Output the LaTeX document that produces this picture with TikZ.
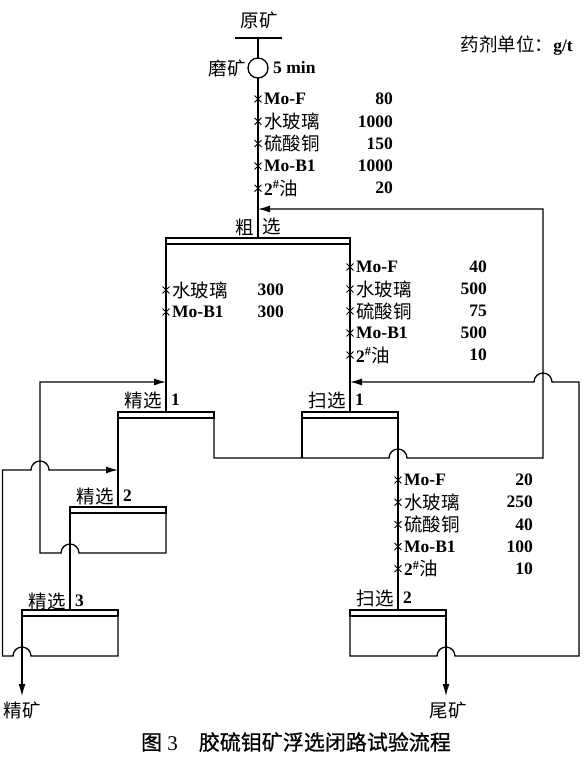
\documentclass[tikz,border=0pt]{standalone}
\usepackage{fontspec}
\setmainfont{Liberation Serif}
\newfontfamily\cjk{Noto Sans CJK SC}
\newfontfamily\cjkcap[FakeBold=0.8]{Noto Sans CJK SC}
\usetikzlibrary{arrows.meta, positioning, shapes.misc, calc}
\newcommand{\zh}[1]{{\cjk\mdseries\fontsize{18.5}{20}\selectfont #1}}
\newcommand{\lblfont}{\fontsize{18.5}{20}\selectfont\cjk}
\newcommand{\numfont}{\fontsize{17.5}{19}\selectfont\bfseries}
\newcommand{\capfont}{\fontsize{21}{23}\selectfont}
\tikzset{
  flow/.style ={line width=1.3pt},
  flowa/.style={line width=1.3pt, -{Latex[length=12pt,width=7pt]}},
  cellbar/.style={rectangle, draw, line width=1.3pt, minimum width=96pt, minimum height=6pt,
                  inner sep=0pt, outer sep=0pt, anchor=north},
  dose/.style ={cross out, draw, line width=0.9pt, minimum size=6pt, inner sep=0pt},
  rname/.style={anchor=west, inner sep=0pt, font=\numfont},
  ramt/.style ={anchor=east, inner sep=0pt, font=\numfont},
  stg/.style  ={anchor=east, inner sep=0pt, font=\lblfont},
  stgn/.style ={anchor=west, inner sep=0pt, font=\numfont},
  prod/.style ={inner sep=0pt, font=\lblfont},
}

\begin{document}
\begin{tikzpicture}[x=1pt, y=1pt]
  \useasboundingbox (0,0) rectangle (585,-766);
  % feed and grinding
  \coordinate (feedL) at (235,-38);
  \coordinate (feedR) at (282,-38);
  \coordinate (feed) at (258,-38);
  \node[prod] (ore) at (259,-20) {原矿};
  \node[circle, draw, flow, minimum size=20pt, inner sep=0pt, outer sep=0pt] (mill) at (258,-68) {};
  \node[stg] (mill-l) at (246,-68) {磨矿};
  \node[stgn] (mill-t) at (273,-68) {5 min};
  \node[anchor=east, inner sep=0pt, font=\numfont] (unit) at (573,-46) {\zh{药剂单位：}g/t};

  % cells
  \node[cellbar, minimum width=184pt] (ro) at (258,-238) {};
  \node[cellbar] (cl1) at (166,-412) {};
  \node[cellbar] (sc1) at (350,-412) {};
  \node[cellbar] (cl2) at (118,-507) {};
  \node[cellbar] (cl3) at (70,-610) {};
  \node[cellbar] (sc2) at (398,-610) {};
  \node[stg] (ro-l) at ($(ro.north)+(-4,11)$) {粗};
  \node[stg, anchor=west] (ro-r) at ($(ro.north)+(4,11)$) {选};
  \node[stg] (cl1-l) at ($(cl1.north)+(-4,12)$) {精选};
  \node[stgn] (cl1-n) at ($(cl1.north)+(5,12)$) {1};
  \node[stg] (sc1-l) at ($(sc1.north)+(-4,12)$) {扫选};
  \node[stgn] (sc1-n) at ($(sc1.north)+(5,12)$) {1};
  \node[stg] (cl2-l) at ($(cl2.north)+(-4,11)$) {精选};
  \node[stgn] (cl2-n) at ($(cl2.north)+(5,11)$) {2};
  \node[stg] (cl3-l) at ($(cl3.north)+(-4,9)$) {精选};
  \node[stgn] (cl3-n) at ($(cl3.north)+(5,9)$) {3};
  \node[stg] (sc2-l) at ($(sc2.north)+(-4,12)$) {扫选};
  \node[stgn] (sc2-n) at ($(sc2.north)+(5,12)$) {2};

  % levels of cell bottoms and return lines
  \coordinate (y1) at (0,-458);
  \coordinate (y2) at (0,-553);
  \coordinate (y3) at (0,-656);
  \coordinate (r1) at (543,-209);
  \coordinate (r2) at (579,-382);
  \coordinate (r3) at (40,-382);
  \coordinate (r4) at (2.5,-470);
  \coordinate (conc) at (22,-696);
  \coordinate (tail) at (446,-696);
  \node[prod] (conc-l) at (22,-710) {精矿};
  \node[prod] (tail-l) at (448,-710) {尾矿};

  % main line
  \draw[flow] (feedL) -- (feedR);
  \draw[flow] (feed) -- (mill);
  \draw[flow] (mill) -- (ro.north);
  \draw[flow] (ro.north west) -- (cl1.north);
  \draw[flow] (ro.north east) -- (sc1.north);
  \draw[flow] (cl1.north west) -- (cl2.north);
  \draw[flow] (sc1.north east) -- (sc2.north);
  \draw[flow] (cl2.north west) -- (cl3.north);
  \draw[flowa] (cl3.north west) -- (conc);
  \draw[flowa] (sc2.north east) -- (tail);

  % cleaner 1 tails + scavenger 1 conc back to rougher
  \draw[flow] (sc1.north west) -- (sc1.north west |- y1);
  \draw[flowa] (cl1.north east) -- (cl1.north east |- y1)
    -- ($(sc1.north east |- y1)+(-9,0)$) arc[start angle=180, end angle=0, radius=9pt]
    -- (r1 |- y1) -- (r1) -- (r1 -| mill);
  % cleaner 2 tails to cleaner 1
  \draw[flowa] (cl2.north east) -- (cl2.north east |- y2)
    -- ($(cl2.north west |- y2)+(9,0)$) arc[start angle=0, end angle=180, radius=9pt]
    -- (r3 |- y2) -- (r3) -- (r3 -| cl1.north);
  % cleaner 3 tails to cleaner 2
  \draw[flowa] (cl3.north east) -- (cl3.north east |- y3)
    -- ($(cl3.north west |- y3)+(9,0)$) arc[start angle=0, end angle=180, radius=9pt]
    -- (r4 |- y3) -- (r4)
    -- ($(r4 -| r3)+(-9,0)$) arc[start angle=180, end angle=0, radius=9pt]
    -- (r4 -| cl2.north);
  % scavenger 2 conc to scavenger 1
  \draw[flowa] (sc2.north west) -- (sc2.north west |- y3)
    -- ($(sc2.north east |- y3)+(-9,0)$) arc[start angle=180, end angle=0, radius=9pt]
    -- (r2 |- y3) -- (r2)
    -- ($(r2 -| r1)+(9,0)$) arc[start angle=0, end angle=180, radius=9pt]
    -- (r2 -| sc1.north);

  % reagents
  \foreach \rn/\ra [count=\i from 0] in {Mo-F/80, \zh{水玻璃}/1000, \zh{硫酸铜}/150,
      Mo-B1/1000, 2\textsuperscript{\#}\zh{油}/20} {
    \node[dose] (d1-\i) at (258,-99-22.3*\i) {};
    \node[rname] (n1-\i) at ($(d1-\i)+(6,0)$) {\rn};
    \node[ramt] (a1-\i) at (393,-99-22.3*\i) {\ra};
  }
  \foreach \rn/\ra [count=\i from 0] in {\zh{水玻璃}/300, Mo-B1/300} {
    \node[dose] (d2-\i) at (166,-290-22*\i) {};
    \node[rname] (n2-\i) at ($(d2-\i)+(6,0)$) {\rn};
    \node[ramt] (a2-\i) at (284,-290-22*\i) {\ra};
  }
  \foreach \rn/\ra [count=\i from 0] in {Mo-F/40, \zh{水玻璃}/500, \zh{硫酸铜}/75,
      Mo-B1/500, 2\textsuperscript{\#}\zh{油}/10} {
    \node[dose] (d3-\i) at (350,-267-22*\i) {};
    \node[rname] (n3-\i) at ($(d3-\i)+(6,0)$) {\rn};
    \node[ramt] (a3-\i) at (487,-267-22*\i) {\ra};
  }
  \foreach \rn/\ra [count=\i from 0] in {Mo-F/20, \zh{水玻璃}/250, \zh{硫酸铜}/40,
      Mo-B1/100, 2\textsuperscript{\#}\zh{油}/10} {
    \node[dose] (d4-\i) at (398,-480-22.2*\i) {};
    \node[rname] (n4-\i) at ($(d4-\i)+(6,0)$) {\rn};
    \node[ramt] (a4-\i) at (533,-480-22.2*\i) {\ra};
  }

  \node[inner sep=0pt, font=\capfont] (cap) at (296,-742)
    {{\cjkcap 图} 3\quad{\cjkcap 胶硫钼矿浮选闭路试验流程}};
\end{tikzpicture}
\end{document}
